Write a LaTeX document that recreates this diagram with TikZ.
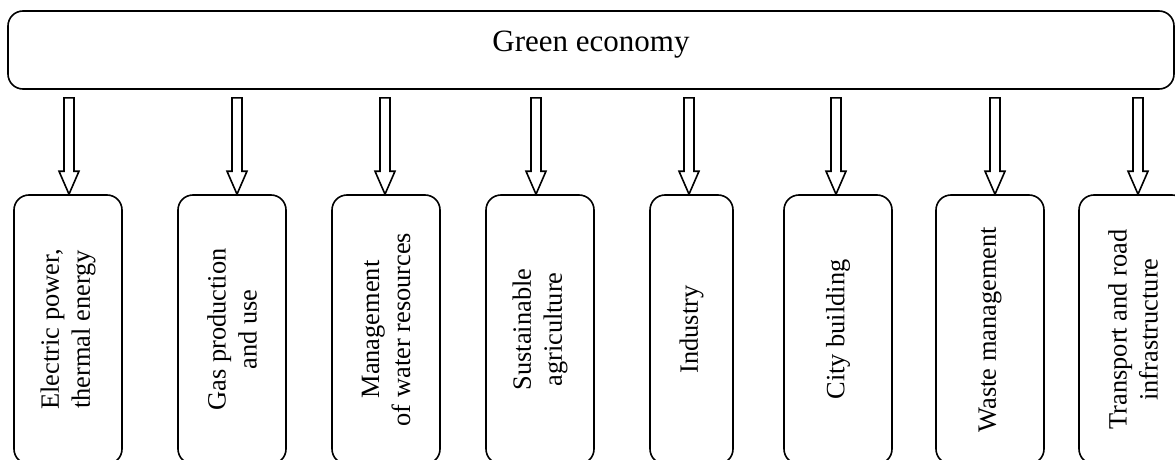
\documentclass[tikz,border=0pt]{standalone}
\usepackage{fontspec}
\setmainfont{Liberation Serif}
\usetikzlibrary{calc}
\begin{document}
\begin{tikzpicture}[x=1pt,y=-1pt,
  lw/.style={line width=1.6pt},
  topbox/.style={draw,lw,rounded corners=15pt,minimum width=1166pt,minimum height=78pt,
    inner sep=0pt,text height=21pt,text depth=17pt,font=\fontsize{31}{36}\selectfont},
  catbox/.style={draw,lw,rounded corners=15pt,rotate=90,minimum width=269pt,minimum height=108pt,
    inner sep=0pt,align=center,font=\fontsize{26.4}{31}\selectfont},
  blockarr/.style={draw,lw,line join=miter,fill=white}]
\useasboundingbox (0,0) rectangle (1175,460);
\node[topbox] (top) at (591,50) {Green economy};
\node[catbox] (b1) at (68,329.5) {Electric power,\\thermal energy};
\node[catbox] (b2) at (232,329.5) {Gas production\\and use};
\node[catbox] (b3) at (386,329.5) {Management\\of water resources};
\node[catbox] (b4) at (540,329.5) {Sustainable\\agriculture};
\node[catbox,minimum height=83pt] (b5) at (691.5,329.5) {Industry};
\node[catbox] (b6) at (838,329.5) {City building};
\node[catbox] (b7) at (990,329.5) {Waste management};
\node[catbox] (b8) at (1133,329.5) {Transport and road\\infrastructure};
\foreach \ax/\b [count=\i] in {69/b1,237/b2,385/b3,536/b4,689/b5,836/b6,995/b7,1138/b8}{
  \coordinate (X\i) at (\ax,0);
  \coordinate (A\i) at ($(top.south -| X\i)+(0,8)$);
  \coordinate (T\i) at (\b.east -| X\i);
  \draw[blockarr] ($(A\i)+(-5,0)$) -- ($(A\i)+(5,0)$) -- ($(T\i)+(5,-23)$) -- ($(T\i)+(10,-23)$)
    -- (T\i) -- ($(T\i)+(-10,-23)$) -- ($(T\i)+(-5,-23)$) -- cycle;
}
\end{tikzpicture}
\end{document}
